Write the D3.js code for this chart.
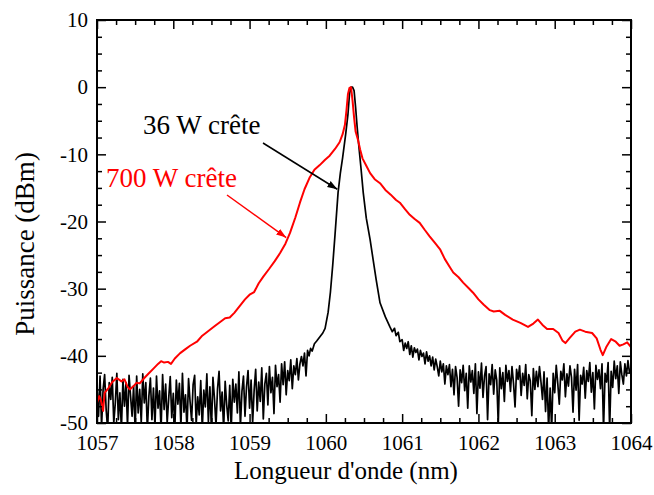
<!doctype html>
<html>
  <head>
    <meta charset="utf-8">
    <title>Spectre</title>
    <script src="https://d3js.org/d3.v7.min.js"></script>
    <style>
      body { margin: 0; background: #fff; }
      text { font-family: "Liberation Serif", "Times New Roman", "DejaVu Serif", serif; }
    </style>
  </head>
  <body>
    <script>
      // axes
      const xTicks = [1057, 1058, 1059, 1060, 1061, 1062, 1063, 1064];
      const yTicks = [10, 0, -10, -20, -30, -40, -50];

      // 700 W crête : [longueur d'onde, dBm]
      const red700 = [
        [1057.00, -47.0], [1057.03, -46.0], [1057.05, -46.6], [1057.08, -48.2], [1057.10, -45.5],
        [1057.15, -44.8], [1057.20, -43.9], [1057.26, -43.3], [1057.32, -43.8], [1057.36, -43.5],
        [1057.40, -44.6], [1057.43, -45.0], [1057.48, -44.5], [1057.52, -44.0], [1057.56, -44.1],
        [1057.62, -43.3], [1057.68, -42.6], [1057.74, -41.9], [1057.80, -41.2], [1057.84, -40.8],
        [1057.88, -41.0], [1057.93, -40.9], [1057.97, -41.2], [1058.02, -40.4], [1058.09, -39.6],
        [1058.16, -39.0], [1058.22, -38.5], [1058.31, -37.9], [1058.38, -37.0], [1058.46, -36.3],
        [1058.54, -35.6], [1058.61, -35.0], [1058.68, -34.4], [1058.74, -34.3], [1058.80, -33.6],
        [1058.87, -32.6], [1058.94, -31.6], [1059.00, -30.9], [1059.06, -30.5], [1059.12, -29.2],
        [1059.18, -28.2], [1059.26, -27.0], [1059.33, -25.9], [1059.40, -24.7], [1059.47, -23.3],
        [1059.53, -21.7], [1059.60, -19.4], [1059.66, -17.2], [1059.72, -15.2], [1059.79, -13.4],
        [1059.85, -12.3], [1059.92, -11.6], [1059.99, -10.8], [1060.05, -10.2], [1060.12, -9.2],
        [1060.18, -8.2], [1060.22, -7.0], [1060.25, -5.6], [1060.27, -3.5], [1060.29, -1.0],
        [1060.31, -0.1], [1060.33, 0.0], [1060.35, -2.0], [1060.37, -4.5], [1060.39, -6.6],
        [1060.42, -7.8], [1060.45, -9.3], [1060.48, -10.6], [1060.53, -11.7], [1060.58, -12.8],
        [1060.64, -13.7], [1060.71, -14.3], [1060.78, -15.3], [1060.85, -16.0], [1060.92, -16.8],
        [1060.97, -17.2], [1061.04, -18.2], [1061.10, -19.0], [1061.16, -19.6], [1061.23, -20.2],
        [1061.30, -21.3], [1061.36, -22.2], [1061.43, -23.2], [1061.50, -24.2], [1061.56, -25.6],
        [1061.62, -26.7], [1061.67, -27.6], [1061.74, -28.3], [1061.80, -29.1], [1061.87, -29.9],
        [1061.93, -30.6], [1062.00, -31.6], [1062.07, -32.4], [1062.15, -33.2], [1062.20, -33.4],
        [1062.28, -33.3], [1062.35, -33.9], [1062.45, -34.6], [1062.55, -35.1], [1062.65, -35.7],
        [1062.72, -35.2], [1062.78, -34.6], [1062.84, -35.4], [1062.90, -36.0], [1062.98, -36.0],
        [1063.05, -36.6], [1063.10, -37.7], [1063.14, -38.1], [1063.20, -37.3], [1063.27, -36.4],
        [1063.33, -36.1], [1063.40, -36.4], [1063.49, -36.6], [1063.55, -37.4], [1063.60, -39.1],
        [1063.63, -39.9], [1063.68, -38.6], [1063.74, -37.5], [1063.80, -37.9], [1063.85, -38.5],
        [1063.90, -38.3], [1063.95, -38.0], [1064.00, -38.7]
      ];

      // 36 W crête : bruit à gauche (pas de 0.02 nm depuis 1057)
      const blackLeftStart = 1057, blackStep = 0.02;
      const blackLeft = [
        -44.5, -49, -43, -50.5, -45, -42.8, -48, -51, -44, -46.5,
        -43.2, -50, -47, -42.6, -49.5, -45.5, -51, -43.5, -47.5, -44,
        -50.5, -42.9, -46, -49, -44.5, -51, -43, -48.5, -45, -50,
        -42.7, -47, -44, -51, -46, -43.3, -49.5, -44.8, -50.5, -43,
        -47.8, -45.2, -51, -42.8, -48, -44.2, -50, -46.3, -43.1, -49.2,
        -45.6, -51, -43.6, -47.2, -44.1, -50.6, -42.6, -48.4, -45.8, -51,
        -43.4, -46.8, -49.6, -44.3, -42.9, -50.2, -46.1, -48.8, -43.7, -51,
        -45.1, -47.6, -42.7, -49.8, -44.6, -51, -43.2, -46.4, -50.4, -44.9,
        -42.3, -48.2, -45.4, -51, -43.8, -47.3, -49.7, -44.4, -50.8, -43.5,
        -46.9, -44.2, -48.5, -42.4, -50.5, -45.3, -43, -49, -44.6, -42.2,
        -47.8, -43.6, -50, -45.1, -42, -48.2, -43.9, -46.8, -41.8, -49.4,
        -44.2, -42.6, -47.3, -41.6, -45.5, -43.2, -48.6, -41.4, -44.6, -42.8,
        -46.9, -41.2, -44.3, -40.9, -45.8, -42.2, -43.7, -40.6, -44.9, -41.5,
        -42.8, -40.4, -43.6
      ];

      // 36 W crête : pic
      const blackPeak = [
        [1059.66, -41.2], [1059.68, -40.1], [1059.70, -41.5], [1059.72, -39.6], [1059.74, -43.0],
        [1059.76, -39.2], [1059.78, -40.0], [1059.80, -38.9], [1059.82, -39.3], [1059.85, -38.2],
        [1059.88, -37.8], [1059.92, -37.2], [1059.96, -36.6], [1059.99, -35.9], [1060.03, -33.5],
        [1060.06, -30.5], [1060.09, -26.5], [1060.12, -22.0], [1060.16, -15.7], [1060.19, -12.8],
        [1060.22, -10.5], [1060.26, -7.0], [1060.29, -4.0], [1060.31, -1.0], [1060.33, 0.0],
        [1060.35, 0.0], [1060.37, -0.5], [1060.39, -3.0], [1060.41, -5.9], [1060.43, -8.5],
        [1060.46, -12.0], [1060.49, -15.7], [1060.53, -19.5], [1060.58, -22.7], [1060.62, -25.7],
        [1060.66, -28.7], [1060.71, -32.1], [1060.78, -34.2], [1060.84, -35.7], [1060.87, -36.4],
        [1060.90, -35.9], [1060.92, -37.0], [1060.95, -36.5], [1060.97, -37.9]
      ];

      // 36 W crête : bruit à droite (pas de 0.02 nm depuis 1061)
      const blackRightStart = 1061;
      const blackRight = [
        -37.6, -39.2, -38.1, -38.9, -37.9, -39.8, -38.5, -40.2, -38.8, -39.5,
        -39.0, -40.6, -39.2, -40.1, -39.6, -41.2, -39.4, -40.8, -40.0, -41.5,
        -40.2, -42.1, -40.5, -41.6, -43.0, -40.8, -42.4, -41.2, -44.2, -41.5,
        -42.8, -41.3, -44.6, -42.0, -45.8, -41.6, -43.2, -47.5, -42.1, -44.0,
        -41.4, -45.2, -42.6, -47.8, -41.5, -43.9, -42.2, -45.6, -41.2, -48.6,
        -42.4, -44.8, -41.1, -46.2, -43.0, -41.6, -49.5, -42.7, -44.3, -41.3,
        -45.7, -42.1, -43.6, -50.2, -41.8, -44.9, -42.5, -46.8, -41.4, -43.8,
        -42.2, -45.3, -41.6, -44.1, -47.6, -42.0, -43.5, -41.5, -45.9, -42.6,
        -44.4, -41.3, -46.4, -42.8, -43.7, -48.9, -41.9, -45.0, -42.3, -44.6,
        -41.6, -43.9, -46.5, -42.4, -48.3, -43.3, -51.0, -44.8, -51.0, -42.6,
        -45.5, -41.4, -44.1, -47.2, -42.3, -43.6, -41.2, -46.1, -42.7, -44.5,
        -41.5, -43.2, -48.4, -42.0, -45.1, -41.3, -49.6, -42.9, -44.2, -41.7,
        -46.3, -42.2, -43.8, -41.0, -45.4, -42.5, -47.9, -41.4, -43.5, -42.1,
        -44.9, -41.2, -51.0, -42.6, -43.9, -41.0, -51.0, -42.3, -44.7, -40.8,
        -43.4, -41.5, -45.6, -40.9, -42.8, -44.2, -41.2, -43.0, -40.7, -42.5,
        -41.8
      ];

      const black36 = [
        ...blackLeft.map((v, i) => [blackLeftStart + i * blackStep, v]),
        ...blackPeak,
        ...blackRight.map((v, i) => [blackRightStart + i * blackStep, v])
      ];

      const svgWidth = 654, svgHeight = 495;
      const plotLeft = 97, plotRight = 631, plotTop = 20, plotBottom = 423;

      const x = d3.scaleLinear().domain([1057, 1064]).range([plotLeft, plotRight]);
      const y = d3.scaleLinear().domain([-50, 10]).range([plotBottom, plotTop]);

      const xMinor = d3.range(1057, 1064.001, 0.25).filter(v => Math.abs(v - Math.round(v)) > 0.01);
      const yMinor = d3.range(-50, 10.001, 2.5).filter(v => Math.abs(v % 10) > 0.01);

      const svg = d3.select('body').append('svg')
          .attr('width', svgWidth)
          .attr('height', svgHeight);

      const defs = svg.append('defs');
      defs.append('clipPath')
          .attr('id', 'plot')
        .append('rect')
          .attr('x', plotLeft)
          .attr('y', plotTop)
          .attr('width', plotRight - plotLeft)
          .attr('height', plotBottom - plotTop);

      [['arrowBlack', '#000'], ['arrowRed', '#ff0000']].forEach(([id, c]) => {
        defs.append('marker')
            .attr('id', id)
            .attr('viewBox', '0 0 10 10')
            .attr('refX', 10)
            .attr('refY', 5)
            .attr('markerWidth', 10)
            .attr('markerHeight', 10)
            .attr('markerUnits', 'userSpaceOnUse')
            .attr('orient', 'auto')
          .append('path')
            .attr('d', 'M0,1.5 L10,5 L0,8.5 Z')
            .attr('fill', c);
      });

      const line = d3.line()
          .x(d => x(d[0]))
          .y(d => y(d[1]));

      const gLines = svg.append('g').attr('clip-path', 'url(#plot)');

      gLines.append('path')
          .datum(black36)
          .attr('d', line)
          .attr('fill', 'none')
          .attr('stroke', '#000')
          .attr('stroke-width', 1.7)
          .attr('stroke-linejoin', 'round');

      gLines.append('path')
          .datum(red700)
          .attr('d', line)
          .attr('fill', 'none')
          .attr('stroke', '#ff0000')
          .attr('stroke-width', 2)
          .attr('stroke-linejoin', 'round');

      // axes (graduations vers l'intérieur)
      const styleAxis = g => {
        g.select('.domain').remove();
        g.selectAll('.tick line').attr('stroke', '#000').attr('stroke-width', 1.5);
      };
      const styleLabels = g => g.selectAll('text')
          .attr('font-size', 21)
          .attr('fill', '#000');

      svg.append('g')
          .attr('transform', `translate(0,${plotBottom})`)
          .call(d3.axisBottom(x).tickValues(xTicks).tickSize(-9).tickPadding(12).tickFormat(d3.format('d')))
          .call(styleAxis)
          .call(styleLabels);
      svg.append('g')
          .attr('transform', `translate(0,${plotBottom})`)
          .call(d3.axisBottom(x).tickValues(xMinor).tickSize(-5).tickFormat(''))
          .call(styleAxis);
      svg.append('g')
          .attr('transform', `translate(0,${plotTop})`)
          .call(d3.axisTop(x).tickValues(xTicks).tickSize(-9).tickFormat(''))
          .call(styleAxis);
      svg.append('g')
          .attr('transform', `translate(0,${plotTop})`)
          .call(d3.axisTop(x).tickValues(xMinor).tickSize(-5).tickFormat(''))
          .call(styleAxis);

      svg.append('g')
          .attr('transform', `translate(${plotLeft},0)`)
          .call(d3.axisLeft(y).tickValues(yTicks).tickSize(-9).tickPadding(9).tickFormat(d => d < 0 ? '-' + Math.abs(d) : d))
          .call(styleAxis)
          .call(styleLabels);
      svg.append('g')
          .attr('transform', `translate(${plotLeft},0)`)
          .call(d3.axisLeft(y).tickValues(yMinor).tickSize(-5).tickFormat(''))
          .call(styleAxis);
      svg.append('g')
          .attr('transform', `translate(${plotRight},0)`)
          .call(d3.axisRight(y).tickValues(yTicks).tickSize(-9).tickFormat(''))
          .call(styleAxis);
      svg.append('g')
          .attr('transform', `translate(${plotRight},0)`)
          .call(d3.axisRight(y).tickValues(yMinor).tickSize(-5).tickFormat(''))
          .call(styleAxis);

      svg.append('rect')
          .attr('x', plotLeft)
          .attr('y', plotTop)
          .attr('width', plotRight - plotLeft)
          .attr('height', plotBottom - plotTop)
          .attr('fill', 'none')
          .attr('stroke', '#000')
          .attr('stroke-width', 2);

      // titres
      svg.append('text')
          .attr('x', 346)
          .attr('y', 479)
          .attr('text-anchor', 'middle')
          .attr('font-size', 25)
          .text("Longueur d'onde (nm)");

      svg.append('text')
          .attr('transform', 'translate(34,244) rotate(-90)')
          .attr('text-anchor', 'middle')
          .attr('font-size', 27)
          .text('Puissance (dBm)');

      // annotations
      svg.append('text')
          .attr('x', 143)
          .attr('y', 134)
          .attr('font-size', 27)
          .attr('fill', '#000')
          .text('36 W crête');
      svg.append('line')
          .attr('x1', 263).attr('y1', 143)
          .attr('x2', x(1060.15)).attr('y2', y(-15.2))
          .attr('stroke', '#000')
          .attr('stroke-width', 1.5)
          .attr('marker-end', 'url(#arrowBlack)');

      svg.append('text')
          .attr('x', 106)
          .attr('y', 187)
          .attr('font-size', 27)
          .attr('fill', '#ff0000')
          .text('700 W crête');
      svg.append('line')
          .attr('x1', 227).attr('y1', 195)
          .attr('x2', x(1059.48)).attr('y2', y(-22.4))
          .attr('stroke', '#ff0000')
          .attr('stroke-width', 1.5)
          .attr('marker-end', 'url(#arrowRed)');
    </script>
  </body>
</html>
